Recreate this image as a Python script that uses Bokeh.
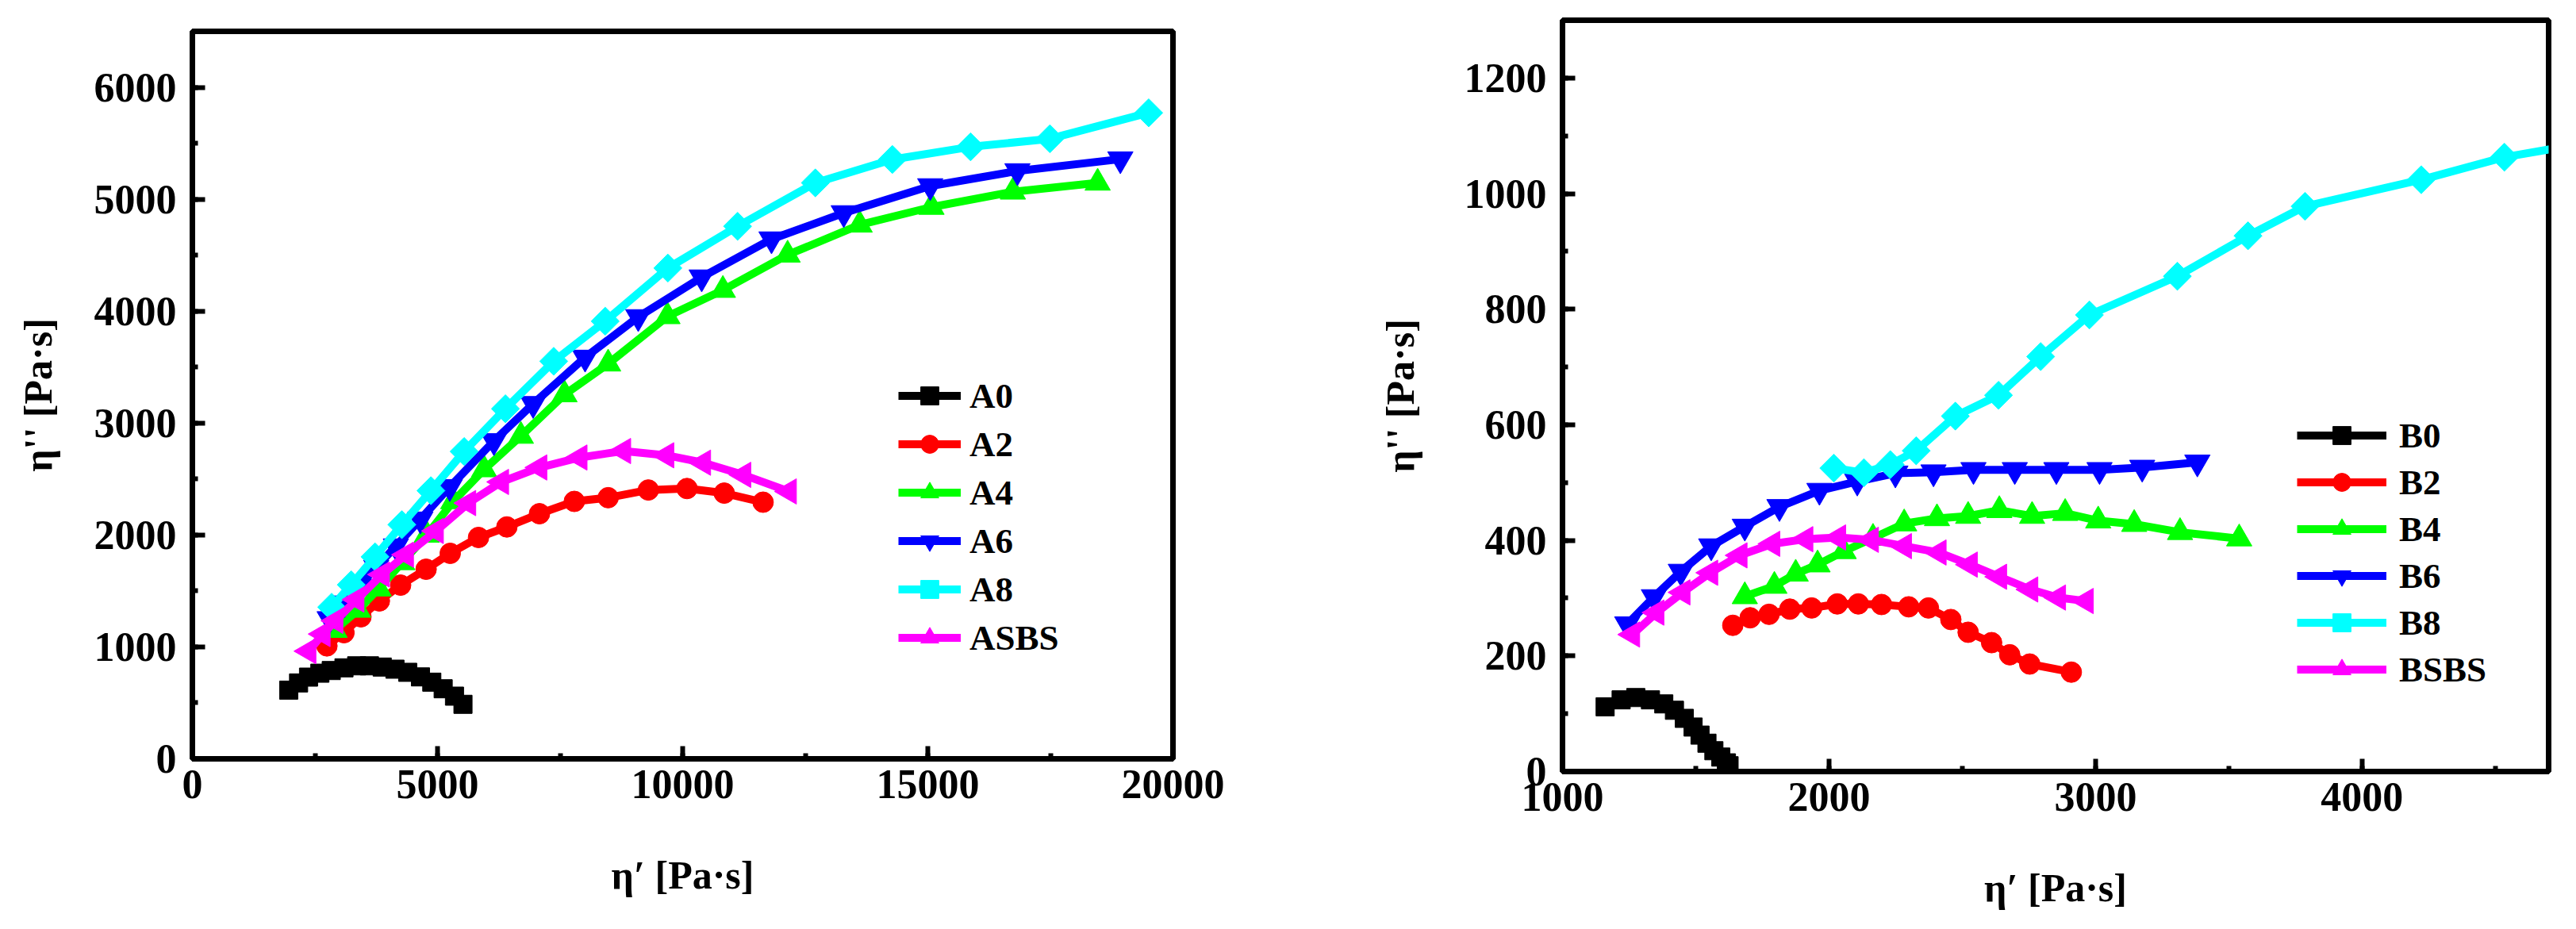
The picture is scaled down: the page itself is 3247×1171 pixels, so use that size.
import numpy as np
from bokeh.plotting import figure
from bokeh.layouts import row
from bokeh.models import SingleIntervalTicker, Range1d
from bokeh.embed import file_html
from bokeh.resources import INLINE

# ---------------- Left panel (A series) ----------------
a_labels = ["A0", "A2", "A4", "A6", "A8", "ASBS"]
a0_x = [1965, 2166, 2369, 2600, 2832, 3092, 3351, 3611, 3872, 4132, 4392, 4652, 4883, 5115, 5346, 5519]
a0_y = [614, 678, 730, 765, 789, 813, 831, 831, 820, 801, 773, 732, 685, 626, 560, 487]
a2_x = [2744, 3092, 3438, 3814, 4247, 4767, 5259, 5836, 6414, 7079, 7790, 8480, 9300, 10088, 10847, 11640]
a2_y = [1009, 1127, 1269, 1411, 1552, 1694, 1836, 1978, 2072, 2190, 2300, 2333, 2402, 2415, 2374, 2293]
a4_x = [2900, 3380, 3800, 4280, 4780, 5320, 5950, 6700, 7590, 8480, 9690, 10820, 12140, 13610, 15075, 16735, 18464]
a4_y = [1150, 1330, 1520, 1755, 2000, 2300, 2585, 2884, 3255, 3530, 3953, 4188, 4503, 4771, 4930, 5066, 5146]
a6_x = [2800, 3100, 3400, 3750, 4150, 4650, 5250, 6150, 6950, 8010, 9094, 10388, 11812, 13285, 15049, 16828, 18927]
a6_y = [1250, 1390, 1540, 1710, 1900, 2140, 2430, 2840, 3172, 3586, 3948, 4303, 4643, 4877, 5118, 5252, 5358]
a8_x = [2840, 3240, 3725, 4272, 4865, 5543, 6385, 7370, 8420, 9698, 11120, 12706, 14277, 15872, 17490, 19505]
a8_y = [1355, 1555, 1805, 2092, 2396, 2746, 3128, 3552, 3910, 4385, 4758, 5146, 5355, 5468, 5540, 5772]
asbs_x = [2370, 2660, 2920, 3350, 3870, 4360, 4970, 5630, 6300, 7080, 7900, 8790, 9670, 10420, 11240, 12170]
asbs_y = [962, 1115, 1233, 1423, 1647, 1824, 2036, 2285, 2474, 2603, 2692, 2750, 2712, 2646, 2537, 2389]

# ---------------- Right panel (B series) ----------------
b_labels = ["B0", "B2", "B4", "B6", "B8", "BSBS"]
b0_x = [1160, 1220, 1275, 1330, 1380, 1420, 1457, 1490, 1516, 1542, 1568, 1594, 1615, 1625]
b0_y = [112, 124, 128, 124, 117, 106, 92, 77, 63, 49, 36, 25, 15, 10]
b2_x = [1639, 1704, 1775, 1853, 1935, 2031, 2110, 2197, 2299, 2373, 2457, 2522, 2610, 2678, 2753, 2909]
b2_y = [253, 266, 272, 281, 283, 290, 290, 289, 285, 283, 263, 241, 223, 202, 186, 172]
b4_x = [1684, 1795, 1875, 1957, 2055, 2165, 2282, 2405, 2522, 2639, 2762, 2886, 3010, 3145, 3317, 3539]
b4_y = [303, 321, 342, 358, 381, 404, 429, 438, 442, 452, 442, 447, 434, 428, 414, 403]
b6_x = [1243, 1343, 1444, 1558, 1684, 1814, 1964, 2106, 2249, 2392, 2542, 2697, 2853, 3015, 3175, 3382]
b6_y = [255, 302, 346, 390, 424, 458, 486, 502, 516, 518, 522, 522, 522, 522, 526, 535]
b8_x = [2018, 2131, 2230, 2327, 2474, 2636, 2794, 2977, 3307, 3572, 3786, 4222, 4534, 4760]
b8_y = [525, 517, 531, 555, 615, 651, 718, 790, 857, 927, 978, 1024, 1063, 1081]
bsbs_x = [1262, 1353, 1451, 1555, 1665, 1788, 1912, 2035, 2158, 2282, 2412, 2529, 2639, 2756, 2860, 2964]
bsbs_y = [237, 275, 310, 344, 374, 394, 402, 405, 401, 390, 379, 358, 337, 315, 301, 295]

colors = ["#000000", "#FF0000", "#00FF00", "#0000FF", "#00FFFF", "#FF00FF"]
# diamond drawn as a square rotated by 45 degrees; left triangle as a rotated triangle
markers = ["square", "circle", "triangle", "inverted_triangle", "square", "triangle"]
angles = [0, 0, 0, 0, np.pi / 4, np.pi / 2]
msizes = [23, 26, 32, 32, 25, 32]

FONT = "Liberation Serif"


def style(p, xtick, xminor, ytick, yminor, xlab_standoff, ylab_standoff):
    p.xgrid.visible = False
    p.ygrid.visible = False
    p.outline_line_color = "black"
    p.outline_line_width = 7
    p.outline_line_alpha = 1
    p.xaxis.ticker = SingleIntervalTicker(interval=xtick, num_minor_ticks=xminor)
    p.yaxis.ticker = SingleIntervalTicker(interval=ytick, num_minor_ticks=yminor)
    for ax in (p.xaxis[0], p.yaxis[0]):
        ax.axis_line_width = 7
        ax.axis_line_color = "black"
        ax.major_tick_in = 16
        ax.major_tick_out = 0
        ax.minor_tick_in = 7
        ax.minor_tick_out = 0
        ax.major_tick_line_width = 6
        ax.minor_tick_line_width = 6
        ax.major_label_text_font = FONT
        ax.major_label_text_font_style = "bold"
        ax.major_label_text_font_size = "52px"
        ax.major_label_text_color = "black"
        ax.axis_label_text_font = FONT
        ax.axis_label_text_font_style = "bold"
        ax.axis_label_text_font_size = "50px"
        ax.axis_label_text_color = "black"
    p.xaxis.major_label_standoff = 14
    p.yaxis.major_label_standoff = 20
    p.xaxis.axis_label_standoff = xlab_standoff
    p.yaxis.axis_label_standoff = ylab_standoff


def add_series(p, xs, ys, labels):
    for i, (x, y) in enumerate(zip(xs, ys)):
        p.line(x, y, line_color=colors[i], line_width=10, legend_label=labels[i])
        p.scatter(x, y, marker=markers[i], size=msizes[i], angle=angles[i],
                  fill_color=colors[i], line_color=colors[i], line_width=1,
                  legend_label=labels[i])


def style_legend(p, loc, gw, spacing, standoff):
    lg = p.legend[0]
    lg.location = loc
    lg.border_line_color = None
    lg.background_fill_alpha = 0
    lg.padding = 0
    lg.margin = 0
    lg.spacing = spacing
    lg.glyph_width = gw
    lg.glyph_height = 57
    lg.label_height = 57
    lg.label_standoff = standoff
    lg.label_text_font = FONT
    lg.label_text_font_style = "bold"
    lg.label_text_font_size = "45px"
    lg.label_text_color = "black"


# Left figure
p1 = figure(width=1678, height=1155, output_backend="svg", toolbar_location=None,
            x_range=Range1d(0, 20000), y_range=Range1d(0, 6500), frame_align=False,
            min_border_left=242, min_border_right=200, min_border_top=39, min_border_bottom=199,
            x_axis_label="η′ [Pa·s]", y_axis_label="η'' [Pa·s]")
style(p1, 5000, 2, 1000, 2, 66, 40)
add_series(p1, [a0_x, a2_x, a4_x, a6_x, a8_x, asbs_x],
           [a0_y, a2_y, a4_y, a6_y, a8_y, asbs_y], a_labels)
style_legend(p1, (890, 124), 79, 4, 11)

# Right figure
p2 = figure(width=1546, height=1155, output_backend="svg", toolbar_location=None,
            x_range=Range1d(1000, 4700), y_range=Range1d(0, 1300), frame_align=False,
            min_border_left=291, min_border_right=12, min_border_top=25, min_border_bottom=183,
            x_axis_label="η′ [Pa·s]", y_axis_label="η'' [Pa·s]")
style(p2, 1000, 2, 200, 2, 66, 50)
add_series(p2, [b0_x, b2_x, b4_x, b6_x, b8_x, bsbs_x],
           [b0_y, b2_y, b4_y, b6_y, b8_y, bsbs_y], b_labels)
style_legend(p2, (926, 100), 113, 2, 16)

for p in (p1, p2):
    p.background_fill_color = "white"
    p.border_fill_color = "white"

layout = row(p1, p2)
open("out.html", "w").write(file_html(layout, INLINE))
